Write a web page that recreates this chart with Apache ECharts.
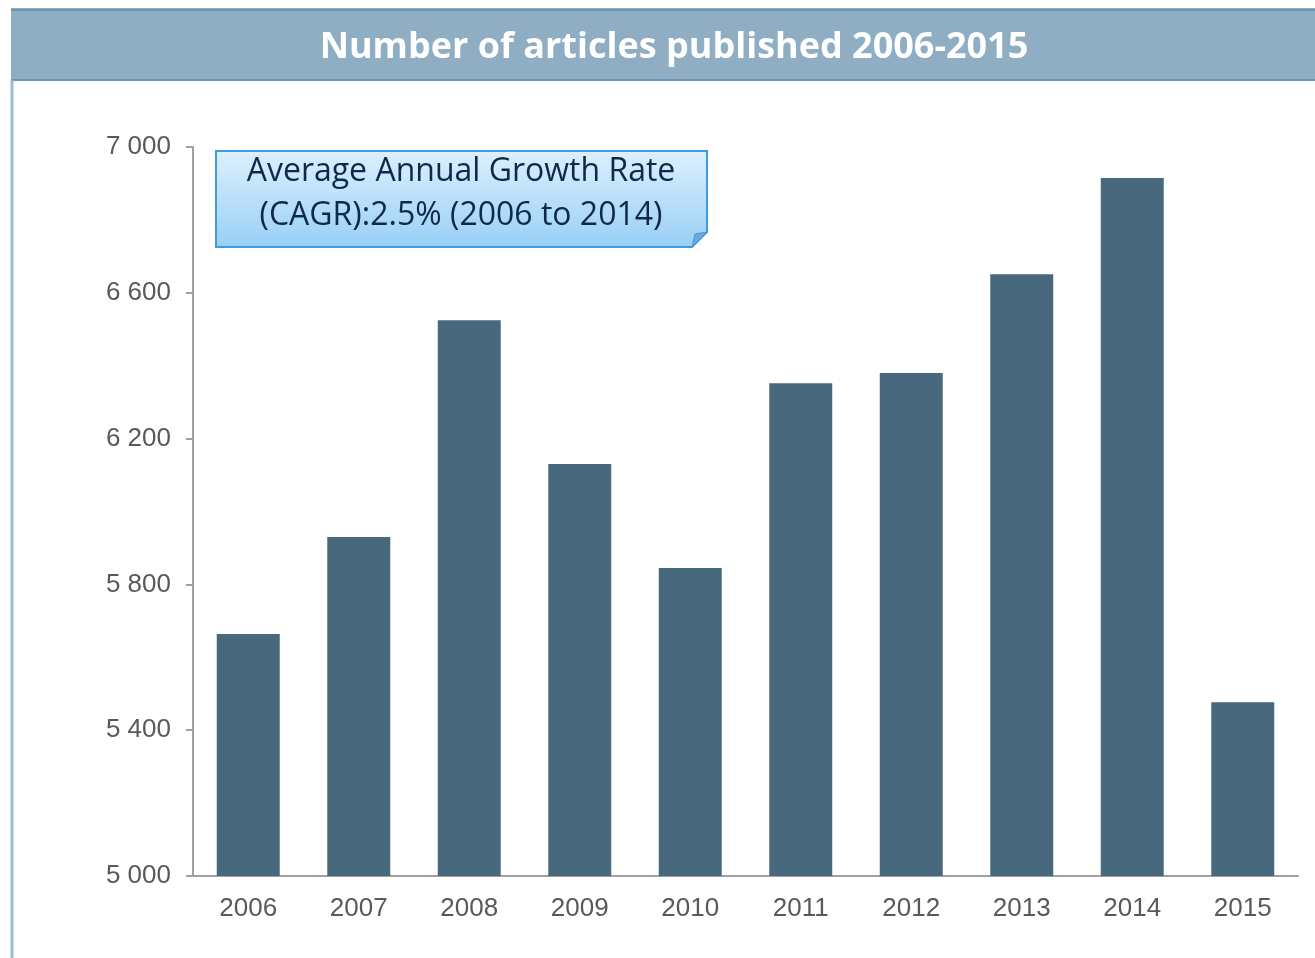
<!DOCTYPE html>
<html><head><meta charset="utf-8">
<script src="https://cdn.jsdelivr.net/npm/echarts@6/dist/echarts.min.js"></script>
<style>html,body{margin:0;padding:0;background:#fff}#c{width:1315px;height:958px}</style>
</head><body><div id="c"></div>
<script>
const categories = ['2006','2007','2008','2009','2010','2011','2012','2013','2014','2015'];
const articles = [5664, 5930, 6525, 6130, 5845, 6352, 6380, 6651, 6915, 5477];
const titleText = 'Number of articles published 2006-2015';
const noteLines = ['Average Annual Growth Rate', '(CAGR):2.5% (2006 to 2014)'];

const chart = echarts.init(document.getElementById('c'));
chart.setOption({
  animation: false,
  backgroundColor: '#ffffff',
  grid: { left: 193, right: 17, top: 147, bottom: 82 },
  xAxis: {
    type: 'category', data: categories,
    axisTick: { show: false },
    axisLine: { lineStyle: { color: '#a0a0a0', width: 2 } },
    axisLabel: { color: '#595959', fontSize: 26, fontFamily: 'Liberation Sans, Arial', margin: 20 }
  },
  yAxis: {
    type: 'value', min: 5000, max: 7000, interval: 400,
    splitLine: { show: false },
    axisLine: { show: true, lineStyle: { color: '#a0a0a0', width: 2 } },
    axisTick: { show: true, length: 7, lineStyle: { color: '#a0a0a0', width: 2 } },
    axisLabel: { color: '#595959', fontSize: 26, fontFamily: 'Liberation Sans, Arial', margin: 22,
      formatter: v => String(v).replace(/\B(?=(\d{3})+(?!\d))/g, ' ') }
  },
  series: [{
    type: 'bar', data: articles, barCategoryGap: '43%',
    itemStyle: { color: '#48687e' }
  }],
  graphic: [
    { type: 'rect', shape: { x: 11, y: 8, width: 1310, height: 73 }, style: { fill: '#8faec3' }, z: 10 },
    { type: 'line', shape: { x1: 11, y1: 10, x2: 1315, y2: 10 }, style: { stroke: '#6f94ad', lineWidth: 2 }, z: 11 },
    { type: 'line', shape: { x1: 11, y1: 80, x2: 1315, y2: 80 }, style: { stroke: '#6f94ad', lineWidth: 2 }, z: 11 },
    { type: 'line', shape: { x1: 12, y1: 80, x2: 12, y2: 958 }, style: { stroke: '#9bbbd0', lineWidth: 3 }, z: 11 },
    { type: 'text', x: 674, y: 48, style: { text: titleText, fill: '#ffffff', font: 'bold 36px "Open Sans", sans-serif', textAlign: 'center', textVerticalAlign: 'middle' }, z: 12 },
    { type: 'polygon', shape: { points: [[216,151],[707,151],[707,232],[692,247],[216,247]] },
      style: { fill: new echarts.graphic.LinearGradient(0,0,0,1,[{offset:0,color:'#ddf0fe'},{offset:1,color:'#98cff6'}]), stroke: '#3f9be0', lineWidth: 2 }, z: 12 },
    { type: 'polygon', shape: { points: [[707,232],[692,247],[695,234]] }, style: { fill: '#6fa9d6', stroke: '#3f9be0', lineWidth: 1 }, z: 13 },
    { type: 'text', x: 461, y: 172, style: { text: noteLines[0], fill: '#0f2a48', font: '32px "Open Sans", sans-serif', textAlign: 'center', textVerticalAlign: 'middle' }, z: 13 },
    { type: 'text', x: 461, y: 216, style: { text: noteLines[1], fill: '#0f2a48', font: '32px "Open Sans", sans-serif', textAlign: 'center', textVerticalAlign: 'middle' }, z: 13 }
  ]
});
</script></body></html>
